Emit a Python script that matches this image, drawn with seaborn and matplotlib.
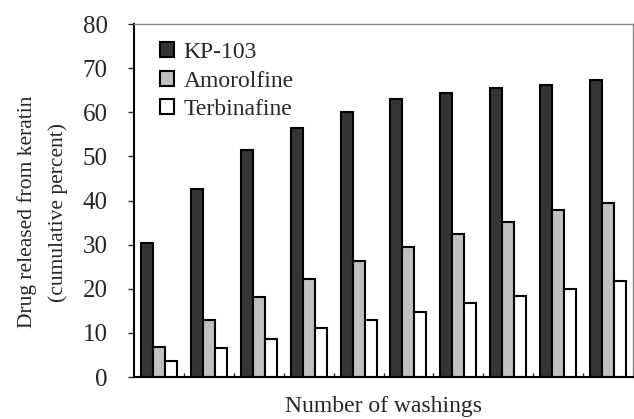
import numpy as np
import pandas as pd
import seaborn as sns
import matplotlib.pyplot as plt

# cumulative percent released after each washing
washings = list(range(1, 11))
kp103 = [30.4, 42.6, 51.4, 56.5, 60.1, 62.9, 64.3, 65.6, 66.2, 67.2]
amorolfine = [6.9, 12.9, 18.1, 22.1, 26.4, 29.5, 32.3, 35.2, 37.9, 39.4]
terbinafine = [3.7, 6.5, 8.6, 11.0, 12.9, 14.8, 16.7, 18.4, 19.9, 21.8]
drugs = ["KP-103", "Amorolfine", "Terbinafine"]
colors = ["#353535", "#c0c0c0", "#ffffff"]

df = pd.DataFrame({
    "washing": washings * 3,
    "drug": np.repeat(drugs, len(washings)),
    "value": kp103 + amorolfine + terbinafine,
})

sns.set_style("white")
plt.rcParams["font.family"] = ["Liberation Serif", "DejaVu Serif"]

fig = plt.figure(figsize=(6.34, 4.19), dpi=100)
ax = fig.add_axes([0.2114, 0.1002, 0.787, 0.8425])

sns.barplot(data=df, x="washing", y="value", hue="drug", hue_order=drugs,
            palette=colors, width=0.72, gap=0, edgecolor="black",
            linewidth=1.5, saturation=1, errorbar=None, ax=ax)

ax.set_ylim(0, 80)
ax.set_xlim(-0.5, 9.5)
ax.set_yticks(range(0, 81, 10))
ax.tick_params(axis="y", labelsize=18, direction="out", length=4, width=1,
               left=True, pad=15)
ax.set_xticks([i + 0.5 for i in range(9)])
ax.set_xticklabels([])
ax.tick_params(axis="x", direction="in", length=3, width=1, bottom=True)

ax.set_xlabel("Number of washings", fontsize=17, labelpad=10)
ax.set_ylabel("Drug released from keratin\n(cumulative percent)",
              fontsize=15.5, linespacing=1.75)
ax.yaxis.set_label_coords(-0.132, 0.467)

for side in ["left", "bottom"]:
    ax.spines[side].set_color("black")
    ax.spines[side].set_linewidth(1.5)
for side in ["top", "right"]:
    ax.spines[side].set_color("#888888")
    ax.spines[side].set_linewidth(1)

leg = ax.legend(loc="upper left", bbox_to_anchor=(0.033, 0.975),
                prop={"family": "Liberation Serif", "size": 17}, frameon=False,
                handlelength=0.6, handleheight=0.6, handletextpad=0.4,
                labelspacing=0.31, borderaxespad=0, title=None)

fig.savefig("out.png", dpi=100)
